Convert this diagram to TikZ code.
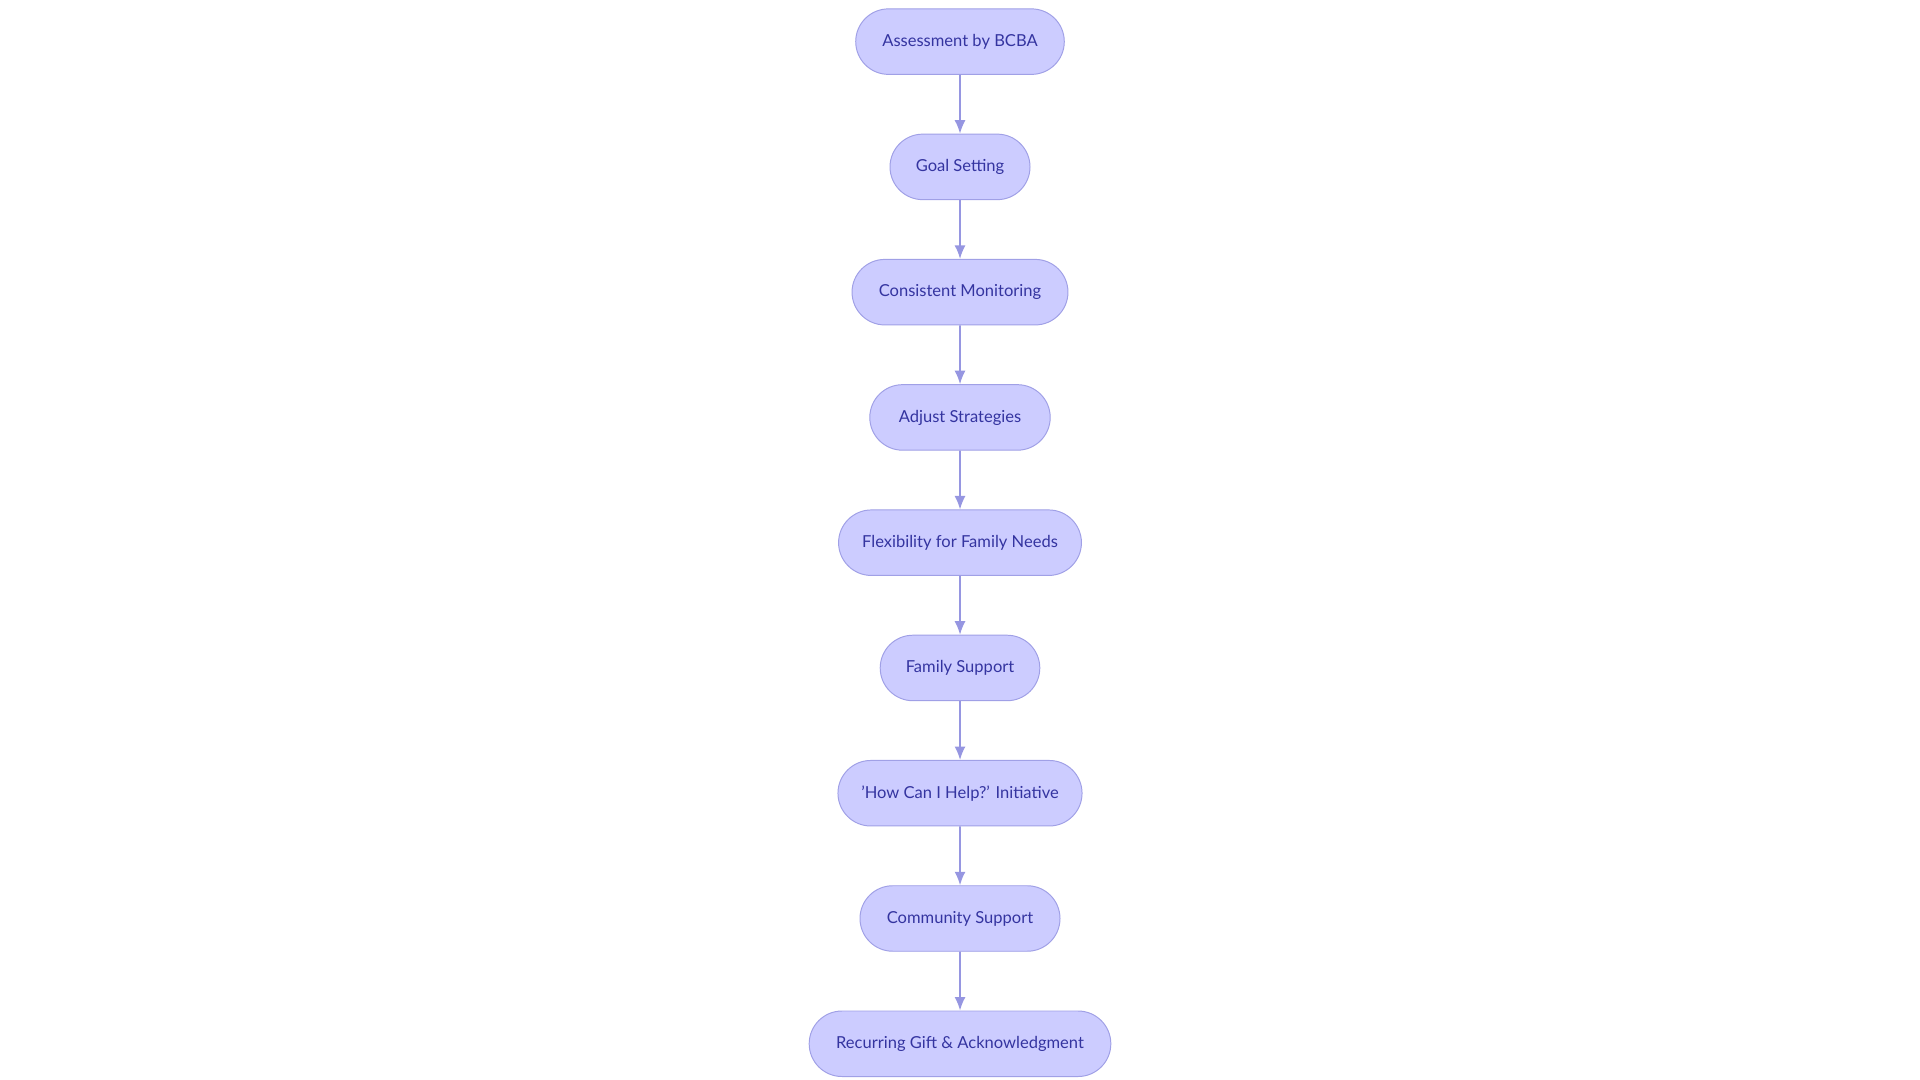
\documentclass[tikz,border=0pt]{standalone}
\usepackage{fontspec}
\setmainfont{Lato}
\usetikzlibrary{positioning,arrows.meta,shapes.misc}
\definecolor{stepfill}{RGB}{204,204,255}
\definecolor{stepline}{RGB}{160,160,230}
\definecolor{steptext}{RGB}{52,52,160}
\definecolor{arrowcol}{RGB}{150,150,225}
\begin{document}
\begin{tikzpicture}[x=1pt,y=1pt,
    stepbox/.style ={rounded rectangle, draw=stepline, fill=stepfill, text=steptext,
      minimum height=53.5pt, font=\fontsize{13.5pt}{16pt}\selectfont, line width=0.8pt},
    flow/.style ={draw=arrowcol, line width=1.3pt, -{Latex[length=11pt,width=9pt]}},
    node distance=48pt]
   \useasboundingbox (0,0) rectangle (1568,-882);
   \node[stepbox, minimum width=177pt] (assess) at (784,-34) {Assessment by BCBA};
   \node[stepbox, minimum width=121pt, below=of assess] (goal) {Goal Setting};
   \node[stepbox, minimum width=183pt, below=of goal] (monitor) {Consistent Monitoring};
   \node[stepbox, minimum width=154pt, below=of monitor] (adjust) {Adjust Strategies};
   \node[stepbox, minimum width=205pt, below=of adjust] (flex) {Flexibility for Family Needs};
   \node[stepbox, minimum width=137pt, below=of flex] (family) {Family Support};
   \node[stepbox, minimum width=206pt, below=of family] (help) {'How Can I Help?' Initiative};
   \node[stepbox, minimum width=170pt, below=of help] (community) {Community Support};
   \node[stepbox, minimum width=253pt, below=of community] (gift) {Recurring Gift \& Acknowledgment};

   \draw[flow] (assess) to (goal);
   \draw[flow] (goal) to (monitor);
   \draw[flow] (monitor) to (adjust);
   \draw[flow] (adjust) to (flex);
   \draw[flow] (flex) to (family);
   \draw[flow] (family) to (help);
   \draw[flow] (help) to (community);
   \draw[flow] (community) to (gift);
 \end{tikzpicture}
\end{document}
